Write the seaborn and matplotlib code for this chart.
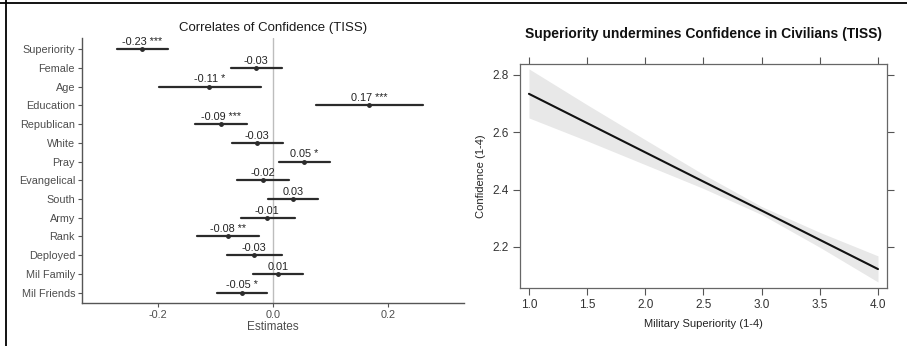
import numpy as np
import pandas as pd
import matplotlib
matplotlib.use("Agg")
import matplotlib.pyplot as plt
from matplotlib.lines import Line2D
import seaborn as sns

# ---- data: left panel (coefficient plot) ----
variables = ["Superiority", "Female", "Age", "Education", "Republican", "White", "Pray",
             "Evangelical", "South", "Army", "Rank", "Deployed", "Mil Family", "Mil Friends"]
estimates = [-0.228, -0.030, -0.111, 0.167, -0.091, -0.028, 0.054,
             -0.017, 0.035, -0.010, -0.078, -0.033, 0.009, -0.054]
ci_low = [-0.271, -0.073, -0.198, 0.075, -0.136, -0.071, 0.010,
          -0.062, -0.008, -0.056, -0.132, -0.080, -0.035, -0.098]
ci_high = [-0.183, 0.015, -0.021, 0.261, -0.046, 0.017, 0.099,
           0.028, 0.078, 0.038, -0.024, 0.015, 0.052, -0.011]
value_labels = ["-0.23 ***", "-0.03", "-0.11 *", "0.17 ***", "-0.09 ***", "-0.03", "0.05 *",
                "-0.02", "0.03", "-0.01", "-0.08 **", "-0.03", "0.01", "-0.05 *"]
x_ticks_left = [-0.2, 0.0, 0.2]

# ---- data: right panel (predicted effect) ----
superiority = [1.0, 1.5, 2.0, 2.5, 3.0, 3.5, 4.0]
confidence_fit = [2.734, 2.632, 2.530, 2.428, 2.327, 2.225, 2.123]
confidence_low = [2.650, 2.570, 2.487, 2.404, 2.313, 2.199, 2.078]
confidence_high = [2.821, 2.696, 2.574, 2.453, 2.341, 2.251, 2.169]
x_ticks_right = [1.0, 1.5, 2.0, 2.5, 3.0, 3.5, 4.0]
y_ticks_right = [2.2, 2.4, 2.6, 2.8]

sns.set_theme(style="white")
plt.rcParams["font.family"] = ["Liberation Sans", "DejaVu Sans"]

fig = plt.figure(figsize=(9.07, 3.46), dpi=100)

# ---------------- left panel ----------------
ax1 = fig.add_axes([0.0904, 0.1243, 0.4212, 0.766])
long = pd.DataFrame({
    "term": np.repeat(variables, 3),
    "value": np.column_stack([ci_low, estimates, ci_high]).ravel(),
})
ax1.axvline(0, color="#bdbdbd", lw=1.0, zorder=0)
sns.pointplot(data=long, x="value", y="term", order=variables, orient="h",
              estimator="median", errorbar=("pi", 100), linestyle="none",
              color="#2b2b2b", markersize=1.5, err_kws={"linewidth": 1.6},
              ax=ax1)
for i, (est, lab) in enumerate(zip(estimates, value_labels)):
    ax1.text(est, i - 0.12, lab, ha="center", va="bottom", fontsize=7.8, color="#222222")
ax1.set_xlim(-0.332, 0.332)
ax1.set_ylim(13.55, -0.6)
ax1.set_xticks(x_ticks_left)
ax1.set_xticklabels(["-0.2", "0.0", "0.2"])
ax1.set_xlabel("Estimates", fontsize=8.5, color="#4d4d4d", labelpad=1)
ax1.set_ylabel("")
ax1.set_title("Correlates of Confidence (TISS)", fontsize=9.5, color="#1a1a1a", pad=5)
for s in ["top", "right"]:
    ax1.spines[s].set_visible(False)
for s in ["left", "bottom"]:
    ax1.spines[s].set_color("#555555")
    ax1.spines[s].set_linewidth(1.0)
ax1.tick_params(axis="both", which="both", length=3, width=0.8, color="#555555",
                labelsize=7.8, labelcolor="#4d4d4d", pad=2,
                left=True, bottom=True)

# ---------------- right panel ----------------
ax2 = fig.add_axes([0.5733, 0.1676, 0.4046, 0.6474])
ax2.fill_between(superiority, confidence_low, confidence_high, color="#e8e8e8", lw=0)
sns.lineplot(x=superiority, y=confidence_fit, color="#111111", lw=1.5, ax=ax2)
ax2.set_xlim(0.923, 4.077)
ax2.set_ylim(2.057, 2.838)
ax2.set_xticks(x_ticks_right)
ax2.set_xticklabels([f"{v:.1f}" for v in x_ticks_right])
ax2.set_yticks(y_ticks_right)
ax2.set_yticklabels([f"{v:.1f}" for v in y_ticks_right])
ax2.set_xlabel("Military Superiority (1-4)", fontsize=8, color="#222222", labelpad=6)
ax2.set_ylabel("Confidence (1-4)", fontsize=8, color="#222222", labelpad=5)
ax2.set_title("Superiority undermines Confidence in Civilians (TISS)", fontsize=10,
              fontweight="bold", color="#111111", pad=19)
for s in ax2.spines.values():
    s.set_visible(True)
    s.set_color("#666666")
    s.set_linewidth(0.9)
ax2.tick_params(axis="both", which="both", direction="out", length=5, width=0.8,
                color="#555555", labelsize=8.5, labelcolor="#333333", pad=3,
                top=True, right=True, left=True, bottom=True,
                labeltop=False, labelright=False)

# outer frame lines
fig.add_artist(Line2D([0.0, 1.0], [1 - 2.5 / 346, 1 - 2.5 / 346], transform=fig.transFigure,
                      color="black", lw=1.3))
fig.add_artist(Line2D([5.5 / 907, 5.5 / 907], [0.0, 1.0], transform=fig.transFigure,
                      color="black", lw=1.3))

fig.savefig("out.png", dpi=100)
